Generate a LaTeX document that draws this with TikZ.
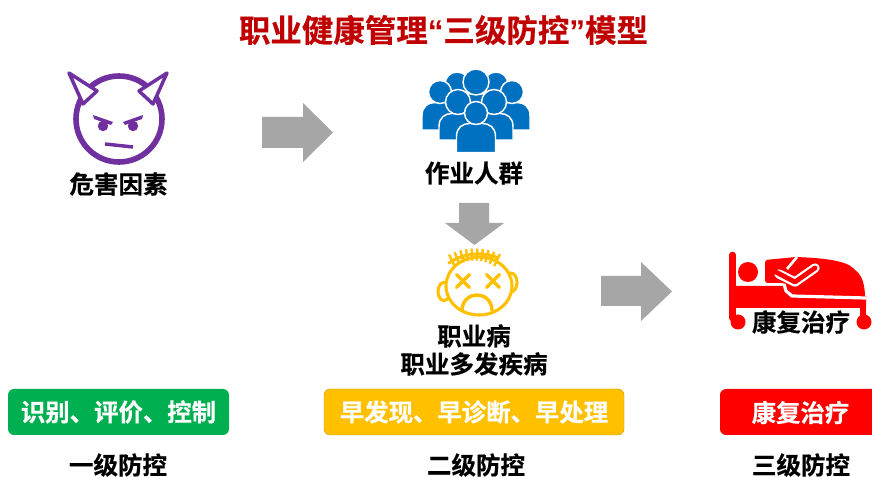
\documentclass[tikz,border=0pt]{standalone}
\usepackage{fontspec}
\setmainfont{Noto Sans CJK SC}[BoldFont={Noto Sans CJK SC Bold},BoldFeatures={FakeBold=0.4}]
\newfontfamily\latinq{Liberation Sans}[BoldFont={Liberation Sans Bold}]
\definecolor{purp}{HTML}{7030A0}
\definecolor{blu}{HTML}{0070C0}
\definecolor{yel}{HTML}{FFC000}
\definecolor{grn}{HTML}{00B050}
\definecolor{titlered}{HTML}{C00000}
\definecolor{arrowgray}{HTML}{A6A6A6}
\tikzset{
  lab/.style={font=\bfseries\fontsize{18.4}{21}\selectfont,text=black,inner sep=0pt,align=center},
  pill/.style={rounded corners=4.5pt,minimum height=34.5pt,inner sep=0pt,font=\bfseries\fontsize{18.3}{23}\selectfont,text=white},
  bigarrow/.style={fill=arrowgray,draw=none},
  person/.style={fill=blu,draw=white,line width=1.1pt},
  devil/.style={draw=purp,line width=4.2pt},
  face/.style={draw=yel,line width=2.3pt,line cap=round,line join=round},
  bedred/.style={fill=red,draw=none}
}
\newcommand{\persona}[5]{% head x, head y, head r, half body width, body bottom
  \path[person] (#1-#4,#5) -- (#1-#4,#2+#3+12) .. controls (#1-#4,#2+#3+3) and (#1-#4+6,#2+#3-1) .. (#1-#4+13,#2+#3-1)
    -- (#1+#4-13,#2+#3-1) .. controls (#1+#4-6,#2+#3-1) and (#1+#4,#2+#3+3) .. (#1+#4,#2+#3+12) -- (#1+#4,#5) -- cycle;
  \path[person] (#1,#2) circle[radius=#3];
}
\begin{document}
\begin{tikzpicture}[x=0.75pt,y=-0.75pt]
\useasboundingbox (0,0) rectangle (872,477);
\fill[white] (0,0) rectangle (872,477);
\node[inner sep=0pt,text=titlered,font=\bfseries\fontsize{23.6}{28}\selectfont] (title) at (443.5,30) {职业健康管理{\latinq “}三级防控{\latinq ”}模型};

% devil
\draw[devil] (119,119) circle[radius=43];
\foreach \s in {-1,1}{
  \draw[draw=purp,line width=2.6pt,fill=white,line join=round] (118+\s*49,73) -- (118+\s*21,91) -- (118+\s*35,104) -- cycle;
  \fill[purp] (118+\s*25,115) -- (118+\s*5,122) -- (118+\s*7,125) -- (118+\s*24,119) -- cycle;
  \fill[purp] (118+\s*15,126) circle[radius=5.2];
}
\draw[purp,line width=2.6pt] (105,144) -- (133,147);
\node[lab] (hazard) at (118.5,184) {危害因素};

% arrows
\path[bigarrow] (262,117) -- (303,117) -- (303,103) -- (333,132.5) -- (303,162) -- (303,148) -- (262,148) -- cycle;
\path[bigarrow] (459,203) -- (489,203) -- (489,223) -- (504,223) -- (474.5,245) -- (445,223) -- (459,223) -- cycle;
\path[bigarrow] (601,276) -- (641,276) -- (641,262) -- (672,291.5) -- (641,321) -- (641,306) -- (601,306) -- cycle;

% people
\persona{457}{84}{12}{19}{115}
\persona{496}{84}{12}{19}{115}
\persona{476}{82}{13}{20}{115}
\persona{440}{92}{11.5}{18}{130}
\persona{512}{92}{11.5}{18}{130}
\persona{458}{102}{12.5}{19}{140}
\persona{494}{102}{12.5}{19}{140}
\persona{476}{113}{11.5}{19.5}{152.5}
\node[lab] (workers) at (474,173) {作业人群};

% sick face
\draw[face,fill=white] (444,291.5) ellipse[x radius=6,y radius=9];
\draw[face,fill=white] (511,282.5) ellipse[x radius=6,y radius=9.5];
\draw[face,fill=white] (479,286) ellipse[x radius=33,y radius=29];
\foreach \x in {452,457,462,467,472,477,482,487,492,497}{
  \pgfmathsetmacro{\yc}{254.5+0.0115*(\x-475)*(\x-475)}
  \pgfmathsetmacro{\dx}{(\x-475)*0.13}
  \draw[draw=yel,line width=1.8pt] (\x+\dx,\yc-6) -- (\x-\dx,\yc+6);
}
\draw[face] (449,263) .. controls (460,255) and (480,250) .. (498,258);
\foreach \c in {463,493}{
  \draw[face,line width=2.6pt] (\c-6.5,274.5) -- (\c+6.5,287.5);
  \draw[face,line width=2.6pt] (\c+6.5,274.5) -- (\c-6.5,287.5);
}
\draw[face,line width=2.6pt] (462,310) .. controls (463,290) and (491,290) .. (492,310);
\node[lab] (disease) at (474,350) {职业病\\职业多发疾病};

% bed
\draw[red,line width=5pt,line cap=round] (732.5,255) -- (732.5,318);
\fill[red] (748,272) circle[radius=10];
\path[bedred] (735,286) -- (790,286) -- (866,296) -- (866,308) -- (735,308) -- cycle;
\path[bedred,rounded corners=2pt] (765,283) -- (765,260) -- (796,257) .. controls (820,258) and (845,260) .. (855,270) .. controls (862,276) and (865,285) .. (865,300) -- (790,297) -- (785,283) -- cycle;
\draw[white,line width=2pt] (797,257) -- (787,269);
\draw[white,line width=7pt,line join=round,line cap=round] (779,274) -- (795,282) -- (815,268);
\draw[red,line width=3.6pt,line join=round,line cap=round] (770,269) -- (795,282) -- (815,268);
\draw[white,line width=2.4pt,line join=round] (784,284) -- (786,291) -- (792,296) -- (866,298);
\draw[red,line width=4pt] (863,306) -- (863,318);
\fill[red] (738,322) circle[radius=7.5];
\fill[red] (864,322) circle[radius=7.5];
\node[fill=white,inner sep=1pt,lab] (rehab) at (801,322) {康复治疗};

% pills
\node[pill,fill=grn,minimum width=165.75pt] (p1) at (118.5,412) {识别、评价、控制};
\node[pill,fill=yel,minimum width=225pt,draw=yel!80!black,line width=0.3pt] (p2) at (474,412) {早发现、早诊断、早处理};
\path[fill=red,rounded corners=4.5pt] (720,389) rectangle (900,435);
\node[font=\bfseries\fontsize{18.3}{23}\selectfont,text=white,inner sep=0pt] (p3) at (800.5,412.5) {康复治疗};

\node[lab] (l1) at (118,465) {一级防控};
\node[lab] (l2) at (476,465) {二级防控};
\node[lab] (l3) at (801,465) {三级防控};
\end{tikzpicture}
\end{document}
